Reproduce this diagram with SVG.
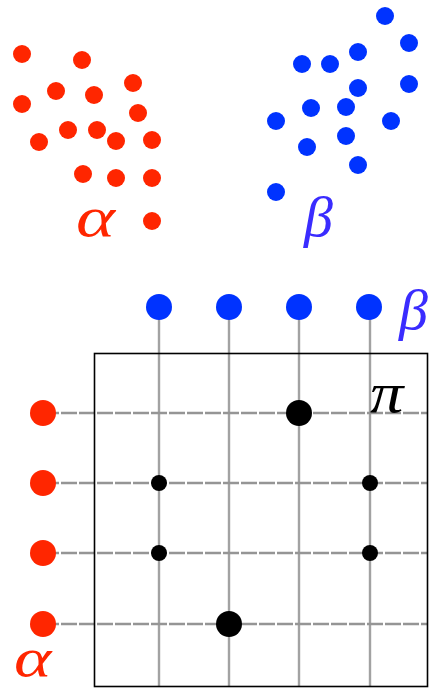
<svg xmlns="http://www.w3.org/2000/svg" width="432" height="688" viewBox="0 0 432 688">
<style>
.r{fill:#ff2600}
.b{fill:#0033ff}
.k{fill:#000}
.lbl{font-family:"Liberation Serif","DejaVu Serif",serif;font-style:italic;font-size:58px}
.g{stroke:#a2a2a2;stroke-width:2.4;fill:none}
.gh{stroke:#959595;stroke-width:2.4;fill:none;stroke-dasharray:16 2}
</style>
<rect width="432" height="688" fill="#fff"/>
<g id="alpha-cloud">
<circle class="r" cx="22" cy="54" r="9"/>
<circle class="r" cx="82" cy="60" r="9"/>
<circle class="r" cx="133" cy="83" r="9"/>
<circle class="r" cx="56" cy="91" r="9"/>
<circle class="r" cx="94" cy="95" r="9"/>
<circle class="r" cx="22" cy="104" r="9"/>
<circle class="r" cx="138" cy="113" r="9"/>
<circle class="r" cx="68" cy="130" r="9"/>
<circle class="r" cx="97" cy="130" r="9"/>
<circle class="r" cx="39" cy="142" r="9"/>
<circle class="r" cx="116" cy="141" r="9"/>
<circle class="r" cx="152" cy="140" r="9"/>
<circle class="r" cx="83" cy="174" r="9"/>
<circle class="r" cx="116" cy="178" r="9"/>
<circle class="r" cx="152" cy="178" r="9"/>
<circle class="r" cx="152" cy="221" r="9"/>
<text class="lbl r" transform="translate(76,236) scale(1.28,1)">α</text>
</g>
<g id="beta-cloud">
<circle class="b" cx="385" cy="16" r="9"/>
<circle class="b" cx="409" cy="43" r="9"/>
<circle class="b" cx="358" cy="52" r="9"/>
<circle class="b" cx="302" cy="64" r="9"/>
<circle class="b" cx="330" cy="64" r="9"/>
<circle class="b" cx="358" cy="88" r="9"/>
<circle class="b" cx="409" cy="84" r="9"/>
<circle class="b" cx="311" cy="108" r="9"/>
<circle class="b" cx="346" cy="107" r="9"/>
<circle class="b" cx="276" cy="121" r="9"/>
<circle class="b" cx="391" cy="121" r="9"/>
<circle class="b" cx="346" cy="136" r="9"/>
<circle class="b" cx="307" cy="147" r="9"/>
<circle class="b" cx="358" cy="165" r="9"/>
<circle class="b" cx="276" cy="192" r="9"/>
<text class="lbl" x="304" y="236" fill="#3a2cff">β</text>
</g>
<g id="connectors">
<line class="g" x1="159" y1="307" x2="159" y2="686"/>
<line class="g" x1="229" y1="307" x2="229" y2="686"/>
<line class="g" x1="299" y1="307" x2="299" y2="686"/>
<line class="g" x1="370" y1="307" x2="370" y2="686"/>
<line class="gh" x1="43" y1="413" x2="427" y2="413"/>
<line class="gh" x1="43" y1="483" x2="427" y2="483"/>
<line class="gh" x1="43" y1="553" x2="427" y2="553"/>
<line class="gh" x1="43" y1="624" x2="427" y2="624"/>
</g>
<g id="plan-box">
<rect x="94.5" y="353.5" width="333" height="333" fill="none" stroke="#000" stroke-width="1.6"/>
<text class="lbl k" transform="translate(370,412) scale(1.15,1)">π</text>
</g>
<g id="beta-marginal">
<circle class="b" cx="159" cy="307" r="13"/>
<circle class="b" cx="229" cy="307" r="13"/>
<circle class="b" cx="299" cy="307" r="13"/>
<circle class="b" cx="369" cy="307" r="13"/>
<text class="lbl" x="399" y="329" fill="#3a2cff">β</text>
</g>
<g id="alpha-marginal">
<circle class="r" cx="43" cy="413" r="13"/>
<circle class="r" cx="43" cy="483" r="13"/>
<circle class="r" cx="43" cy="553" r="13"/>
<circle class="r" cx="43" cy="624" r="13"/>
<text class="lbl r" style="font-size:54px" transform="translate(14,676) scale(1.32,1)">α</text>
</g>
<g id="plan-entries">
<circle class="k" cx="299" cy="413" r="13"/>
<circle class="k" cx="229" cy="624" r="13"/>
<circle class="k" cx="159" cy="483" r="8"/>
<circle class="k" cx="370" cy="483" r="8"/>
<circle class="k" cx="159" cy="553" r="8"/>
<circle class="k" cx="370" cy="553" r="8"/>
</g>
</svg>
